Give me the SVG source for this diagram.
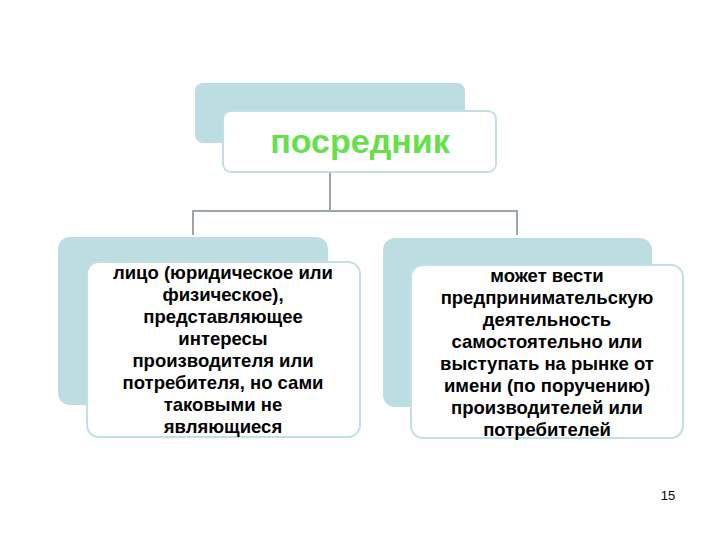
<svg xmlns="http://www.w3.org/2000/svg" width="720" height="540" viewBox="0 0 720 540">
<style>
.back{fill:#bcdde1}
.front{fill:#fff;stroke:#c3dfe3;stroke-width:2}
.conn{fill:none;stroke:#9aa6aa;stroke-width:2}
.t{font-family:"Liberation Sans",Arial,sans-serif;font-weight:bold;font-size:18.5px;fill:#000;text-anchor:middle}
</style>
<rect width="720" height="540" fill="#fff"/>
<g id="connectors">
<path class="conn" d="M330 172V211M193 235V211H517V235"/>
</g>
<g id="top">
<rect class="back" x="195" y="83" width="270" height="60" rx="8"/>
<rect class="front" x="223" y="111" width="273" height="61" rx="8"/>
<text x="360" y="153" font-family="Liberation Sans,Arial,sans-serif" font-weight="bold" font-size="34" fill="#66e04a" text-anchor="middle">посредник</text>
</g>
<g id="left">
<rect class="back" x="58" y="237" width="270" height="168" rx="12"/>
<rect class="front" x="87" y="262" width="273" height="175" rx="12"/>
<text class="t"><tspan x="223" y="279">лицо (юридическое или</tspan><tspan x="223" y="301">физическое),</tspan><tspan x="223" y="323">представляющее</tspan><tspan x="223" y="345">интересы</tspan><tspan x="223" y="367">производителя или</tspan><tspan x="223" y="389">потребителя, но сами</tspan><tspan x="223" y="411">таковыми не</tspan><tspan x="223" y="433">являющиеся</tspan></text>
</g>
<g id="right">
<rect class="back" x="383" y="238" width="269" height="169" rx="12"/>
<rect class="front" x="411" y="265" width="272" height="173" rx="12"/>
<text class="t"><tspan x="547" y="282">может вести</tspan><tspan x="547" y="304">предпринимательскую</tspan><tspan x="547" y="326">деятельность</tspan><tspan x="547" y="348">самостоятельно или</tspan><tspan x="547" y="370">выступать на рынке от</tspan><tspan x="547" y="392">имени (по поручению)</tspan><tspan x="547" y="414">производителей или</tspan><tspan x="547" y="436">потребителей</tspan></text>
</g>
<text x="668" y="500" font-family="Liberation Sans,Arial,sans-serif" font-size="13" text-anchor="middle">15</text>
</svg>
